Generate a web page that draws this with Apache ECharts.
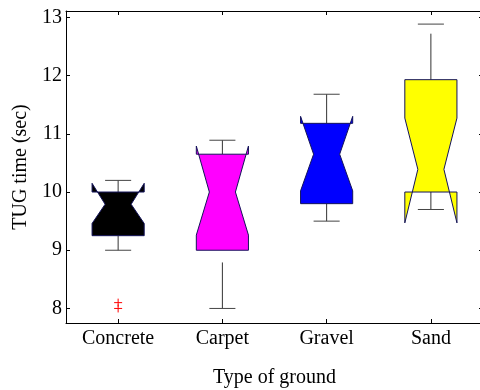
<!DOCTYPE html>
<html>
<head>
<meta charset="utf-8">
<script src="https://cdn.jsdelivr.net/npm/echarts@6/dist/echarts.min.js"></script>
<style>
html,body{margin:0;padding:0;background:#fff;}
#chart{width:480px;height:390px;}
</style>
</head>
<body>
<div id="chart"></div>
<script>
// ---- data ----
var categories = ['Concrete', 'Carpet', 'Gravel', 'Sand'];
var q1Values = [9.25, 9.0, 9.8, 10.0];
var q3Values = [10.0, 10.65, 11.18, 11.93];
var medianValues = [9.79, 10.0, 10.65, 10.39];
var notchLowValues = [9.46, 9.26, 10.02, 9.47];
var notchHighValues = [10.15, 10.79, 11.30, 11.27];
var whiskerLowValues = [9.0, 8.0, 9.5, 9.7];
var whiskerHighValues = [10.2, 10.89, 11.68, 12.885];
var outlierCategory = [0, 0];
var outlierValues = [8.1, 8.0];
var boxColors = ['#000000', '#ff00ff', '#0000ff', '#ffff00'];
var yTickValues = [8, 9, 10, 11, 12, 13];

var boxData = categories.map(function (c, i) {
  return [i, q1Values[i], q3Values[i], medianValues[i], notchLowValues[i],
          notchHighValues[i], whiskerLowValues[i], whiskerHighValues[i]];
});
var outlierData = outlierValues.map(function (v, i) { return [outlierCategory[i], v]; });

var font = 'Liberation Serif, Times New Roman, serif';
var chart = echarts.init(document.getElementById('chart'), null, {renderer: 'canvas'});

function renderBox(params, api) {
  var idx = api.value(0);
  var band = api.size([1, 0])[0];
  var half = band * 0.25;
  var notchHalf = half * 0.5;
  var capHalf = band * 0.125;
  var cx = api.coord([idx, api.value(1)])[0];
  function y(k) { return api.coord([idx, api.value(k)])[1]; }
  var yQ1 = y(1), yQ3 = y(2), yMed = y(3), yNlo = y(4), yNhi = y(5), yWlo = y(6), yWhi = y(7);
  var L = cx - half, R = cx + half;
  var nL = cx - notchHalf, nR = cx + notchHalf;
  var wStyle = {stroke: '#333', lineWidth: 1, lineDash: [46, 14], fill: null};
  var cStyle = {stroke: '#444', lineWidth: 1, fill: null};
  return {
    type: 'group',
    children: [
      {type: 'line', shape: {x1: cx, y1: yWlo, x2: cx, y2: yQ1}, style: wStyle},
      {type: 'line', shape: {x1: cx, y1: yQ3, x2: cx, y2: yWhi}, style: wStyle},
      {type: 'line', shape: {x1: cx - capHalf, y1: yWlo, x2: cx + capHalf, y2: yWlo}, style: cStyle},
      {type: 'line', shape: {x1: cx - capHalf, y1: yWhi, x2: cx + capHalf, y2: yWhi}, style: cStyle},
      {
        type: 'polygon',
        shape: {points: [[L, yQ1], [L, yNlo], [nL, yMed], [L, yNhi], [L, yQ3],
                         [R, yQ3], [R, yNhi], [nR, yMed], [R, yNlo], [R, yQ1]]},
        style: {fill: boxColors[idx], stroke: '#14145a', lineWidth: 1}
      }
    ]
  };
}

function renderOutlier(params, api) {
  var p = api.coord([api.value(0), api.value(1)]);
  var s = 4;
  var st = {stroke: '#ff0000', lineWidth: 1};
  return {
    type: 'group',
    children: [
      {type: 'line', shape: {x1: p[0] - s, y1: p[1], x2: p[0] + s, y2: p[1]}, style: st},
      {type: 'line', shape: {x1: p[0], y1: p[1] - s, x2: p[0], y2: p[1] + s}, style: st}
    ]
  };
}

var axisLine = {show: true, lineStyle: {color: '#000', width: 1}};
var option = {
  backgroundColor: '#fff',
  animation: false,
  grid: {left: 66, width: 417, top: 11, height: 312, outerBoundsMode: 'none', containLabel: false},
  xAxis: [{
    type: 'category', data: categories, position: 'bottom',
    axisLine: axisLine,
    axisTick: {show: true, inside: true, length: 4, alignWithLabel: true, lineStyle: {color: '#000'}},
    axisLabel: {color: '#000', fontFamily: font, fontSize: 20, margin: 6},
    name: 'Type of ground', nameLocation: 'middle', nameGap: 45,
    nameTextStyle: {color: '#000', fontFamily: font, fontSize: 20},
    splitLine: {show: false}
  }, {
    type: 'category', data: categories, position: 'top',
    axisLine: axisLine,
    axisTick: {show: true, inside: true, length: 4, alignWithLabel: true, lineStyle: {color: '#000'}},
    axisLabel: {show: false}, splitLine: {show: false}
  }],
  yAxis: [{
    type: 'value', min: 7.75, max: 13.11, position: 'left',
    axisLine: axisLine,
    axisTick: {show: true, inside: true, length: 4, customValues: yTickValues, lineStyle: {color: '#000'}},
    axisLabel: {color: '#000', fontFamily: font, fontSize: 20, margin: 4, customValues: yTickValues},
    name: 'TUG time (sec)', nameLocation: 'middle', nameGap: 34,
    nameTextStyle: {color: '#000', fontFamily: font, fontSize: 20},
    splitLine: {show: false}
  }, {
    type: 'value', min: 7.75, max: 13.11, position: 'right',
    axisLine: axisLine,
    axisTick: {show: true, inside: true, length: 4, customValues: yTickValues, lineStyle: {color: '#000'}},
    axisLabel: {show: false}, splitLine: {show: false}
  }],
  series: [{
    type: 'custom', renderItem: renderBox, data: boxData,
    xAxisIndex: 0, yAxisIndex: 0, encode: {x: 0, y: [1, 2, 3, 4, 5, 6, 7]}, clip: false
  }, {
    type: 'custom', renderItem: renderOutlier, data: outlierData,
    xAxisIndex: 0, yAxisIndex: 0, encode: {x: 0, y: 1}
  }]
};
chart.setOption(option);
</script>
</body>
</html>
